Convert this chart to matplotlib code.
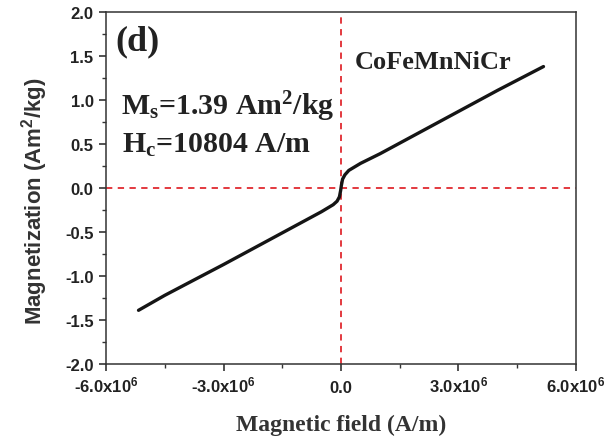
import matplotlib
matplotlib.use("Agg")
import matplotlib.pyplot as plt
from matplotlib.ticker import MultipleLocator, FixedLocator, FixedFormatter

plt.rcParams['mathtext.default'] = 'regular'

# Data (H in A/m, M in Am^2/kg)
field = [-5.17e6, -4.5e6, -3.73e6, -3.0e6, -2.0e6, -1.0e6, -0.5e6, -0.2e6, -0.1e6,
         -0.04e6, -0.01e6, 0.01e6, 0.04e6, 0.1e6, 0.2e6, 0.5e6, 1.0e6, 2.0e6,
         3.0e6, 4.0e6, 5.17e6]
magnetization = [-1.39, -1.22, -1.04, -0.87, -0.63, -0.39, -0.27, -0.19, -0.15,
                 -0.10, -0.03, 0.03, 0.10, 0.15, 0.20, 0.28, 0.39, 0.63,
                 0.87, 1.11, 1.38]

x_ticks = [-6.0e6, -3.0e6, 0.0, 3.0e6, 6.0e6]
x_tick_labels = ['-6.0x10$^{6}$', '-3.0x10$^{6}$', '0.0', '3.0x10$^{6}$', '6.0x10$^{6}$']
y_ticks = [-2.0, -1.5, -1.0, -0.5, 0.0, 0.5, 1.0, 1.5, 2.0]
y_tick_labels = ['-2.0', '-1.5', '-1.0', '-0.5', '0.0', '0.5', '1.0', '1.5', '2.0']

fig = plt.figure(figsize=(6.11, 4.39), dpi=100)
ax = fig.add_axes([0.1735, 0.1686, 0.7692, 0.8018])

red = '#e02a30'
ax.axhline(0, color=red, lw=1.3, ls=(0, (3.5, 3)), zorder=1)
ax.axvline(0, color=red, lw=1.3, ls=(0, (3.5, 3)), zorder=1)
ax.plot(field, magnetization, color='#151515', lw=2.4, solid_capstyle='round', zorder=3)

ax.set_xlim(-6.0e6, 6.0e6)
ax.set_ylim(-2.0, 2.0)
ax.xaxis.set_major_locator(FixedLocator(x_ticks))
ax.xaxis.set_major_formatter(FixedFormatter(x_tick_labels))
ax.yaxis.set_major_locator(FixedLocator(y_ticks))
ax.yaxis.set_major_formatter(FixedFormatter(y_tick_labels))
ax.xaxis.set_minor_locator(MultipleLocator(1.5e6))
ax.yaxis.set_minor_locator(MultipleLocator(0.25))

ax.tick_params(which='major', direction='out', length=5, width=1.2, color='#333333',
               top=False, right=False)
ax.tick_params(which='minor', direction='out', length=3, width=1.0, color='#333333',
               top=False, right=False)
ax.tick_params(axis='y', which='major', pad=4)
ax.tick_params(axis='x', which='major', pad=15)
for t in ax.xaxis.get_major_ticks():
    t.label1.set_va('baseline')
for lab in ax.get_xticklabels() + ax.get_yticklabels():
    lab.set_fontfamily('Liberation Sans')
    lab.set_fontweight('bold')
    lab.set_fontsize(12)
    lab.set_color('#222222')

for sp in ax.spines.values():
    sp.set_color('#333333')
    sp.set_linewidth(1.1)

ax.set_ylabel('Magnetization (Am$^{2}$/kg)', fontfamily='Liberation Sans',
              fontweight='bold', fontsize=16, color='#333333', labelpad=11)
ax.yaxis.label.set_y(0.465)
ax.set_xlabel('Magnetic field (A/m)', fontfamily='Liberation Serif',
              fontweight='bold', fontsize=17, color='#333333', labelpad=14)

serif = dict(fontfamily='Liberation Serif', fontweight='bold', color='#222222')
ax.text(0.019, 0.893, '(d)', transform=ax.transAxes, fontsize=26, va='baseline', ha='left', **serif)
ax.text(0.53, 0.841, 'CoFeMnNiCr', transform=ax.transAxes, fontsize=19, va='baseline', ha='left', **serif)
ax.text(0.032, 0.710, 'M$_{s}$=1.39 Am$^{2}$/kg', transform=ax.transAxes, fontsize=21.5,
        va='baseline', ha='left', **serif)
ax.text(0.034, 0.602, 'H$_{c}$=10804 A/m', transform=ax.transAxes, fontsize=21.5,
        va='baseline', ha='left', **serif)

fig.savefig('out.png', dpi=100)
